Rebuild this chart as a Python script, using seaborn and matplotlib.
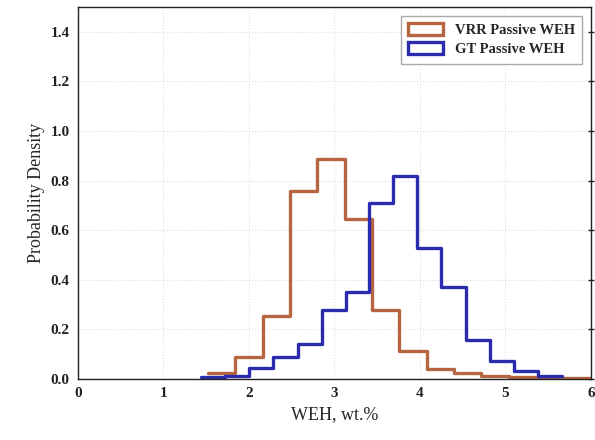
import numpy as np
import pandas as pd
import matplotlib
matplotlib.use("Agg")
import matplotlib.pyplot as plt
import seaborn as sns
from matplotlib.patches import Patch

# Bin edges and densities
vrr_edges = [1.52, 1.84, 2.16, 2.48, 2.80, 3.12, 3.44, 3.76, 4.08, 4.40, 4.72, 5.04, 5.36, 5.68, 6.00]
vrr_density = [0.023, 0.09, 0.254, 0.756, 0.888, 0.645, 0.278, 0.114, 0.04, 0.024, 0.012, 0.007, 0.003, 0.003]

gt_edges = [1.44, 1.72, 2.00, 2.28, 2.57, 2.85, 3.13, 3.41, 3.69, 3.97, 4.25, 4.54, 4.82, 5.10, 5.38, 5.66]
gt_density = [0.007, 0.01, 0.043, 0.09, 0.141, 0.278, 0.352, 0.711, 0.819, 0.527, 0.37, 0.157, 0.07, 0.03, 0.01]

labels = ["VRR Passive WEH", "GT Passive WEH"]
colors = ["#B5653F", "#2B2BB0"]

sns.set_style("white")
plt.rcParams["font.family"] = ["Liberation Serif", "DejaVu Serif"]

fig = plt.figure(figsize=(5.95, 4.4), dpi=100)
ax = fig.add_axes([0.131, 0.139, 0.862, 0.845])

for edges, dens, col in [(vrr_edges, vrr_density, colors[0]), (gt_edges, gt_density, colors[1])]:
    e = np.array(edges)
    centers = (e[:-1] + e[1:]) / 2
    df = pd.DataFrame({"x": centers, "w": dens})
    sns.histplot(data=df, x="x", weights="w", bins=list(edges), element="step", fill=False,
                 color=col, linewidth=2.4, ax=ax, stat="count")

ax.set_xlim(0, 6)
ax.set_ylim(0, 1.5)
ax.set_xticks(range(0, 7))
ax.set_yticks(np.arange(0, 1.41, 0.2))
ax.set_yticklabels([f"{v:.1f}" for v in np.arange(0, 1.41, 0.2)])
ax.grid(True, linestyle=":", color="#dddddd", linewidth=0.8)
ax.set_axisbelow(True)
for s in ax.spines.values():
    s.set_color("#222222")
    s.set_linewidth(1.0)
ax.tick_params(direction="inout", length=5, width=1, top=False, right=True,
               labelsize=11, colors="#222222")
for t in ax.get_xticklabels() + ax.get_yticklabels():
    t.set_fontweight("bold")
ax.set_xlabel("WEH, wt.%", fontsize=13)
ax.set_ylabel("Probability Density", fontsize=13)

handles = [Patch(facecolor="white", edgecolor=c, linewidth=2.4, label=l) for c, l in zip(colors, labels)]
leg = ax.legend(handles=handles, loc="upper right", fancybox=False, framealpha=1,
                edgecolor="#aaaaaa", prop={"weight": "bold", "size": 10.5},
                handlelength=2.4, handleheight=0.9, borderaxespad=0.6,
                borderpad=0.5, labelspacing=0.35)

fig.savefig("out.png", dpi=100)
